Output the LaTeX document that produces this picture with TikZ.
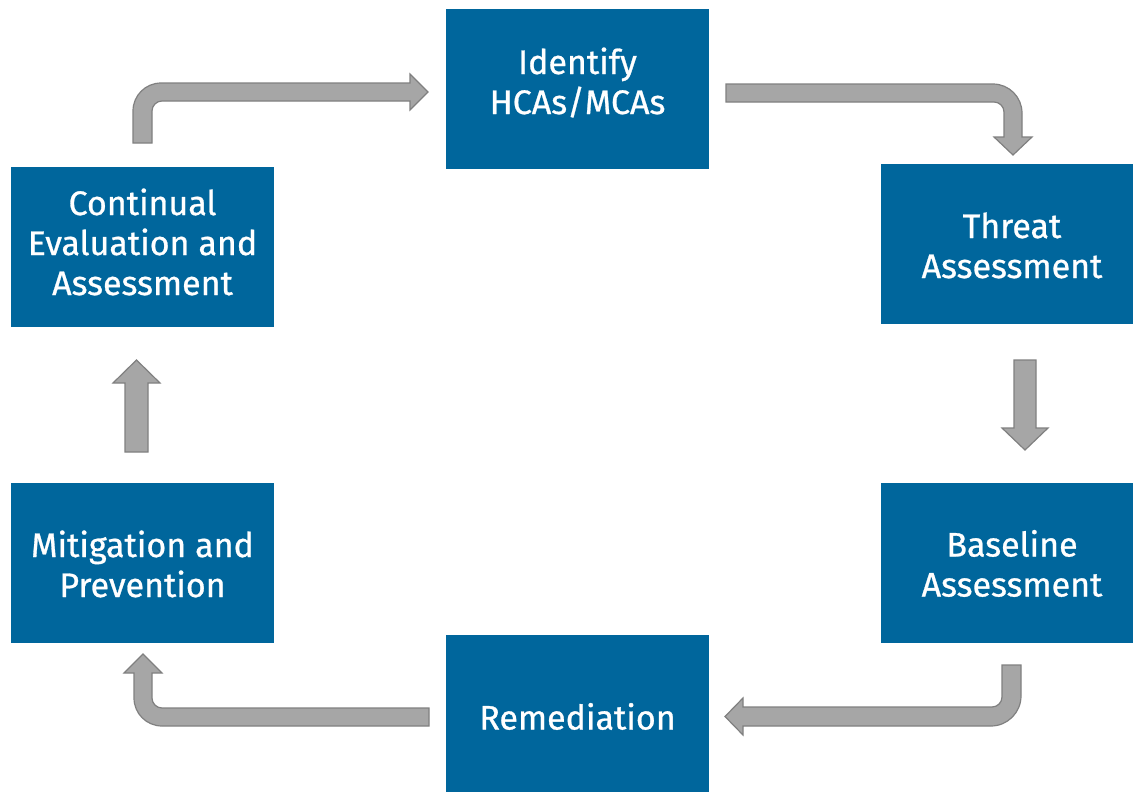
\documentclass[tikz,border=0pt]{standalone}
\usepackage{fontspec}
\setmainfont{Fira Sans}[FakeBold=0.8]
\definecolor{boxblue}{RGB}{0,102,156}
\definecolor{arrfill}{RGB}{166,166,166}
\definecolor{arrline}{RGB}{128,128,128}
\newcommand{\boxtext}[2]{\raisebox{#1}[\height][\depth]{\begin{tabular}{@{}c@{}}#2\end{tabular}}}
\begin{document}
\begin{tikzpicture}[x=1pt,y=-1pt,
  box/.style={fill=boxblue, text=white, inner sep=0pt,
    font=\fontsize{34}{40}\selectfont},
  blockarrow/.style={fill=arrfill, draw=arrline, line width=1.2pt, line join=miter}]
\useasboundingbox (0,0) rectangle (1133,793);
\node[box, minimum width=263pt, minimum height=160pt] (id) at (577.5,89) {\boxtext{3pt}{Identify\\HCAs/MCAs}};
\node[box, minimum width=252pt, minimum height=160pt] (threat) at (1007,244) {\boxtext{-6pt}{\hspace*{10pt}Threat\\\hspace*{10pt}Assessment}};
\node[box, minimum width=252pt, minimum height=160pt] (base) at (1007,563) {\boxtext{-5.5pt}{\hspace*{10pt}Baseline\\\hspace*{10pt}Assessment}};
\node[box, minimum width=263pt, minimum height=157pt] (rem) at (577.5,713.5) {\boxtext{-8pt}{Remediation}};
\node[box, minimum width=263pt, minimum height=160pt] (mit) at (142.5,563) {\boxtext{-6pt}{Mitigation and\\Prevention}};
\node[box, minimum width=263pt, minimum height=160pt] (cont) at (142.5,247) {\boxtext{0pt}{Continual\\Evaluation and\\Assessment}};
% cont -> id
\draw[blockarrow] (133,143) -- (133,111) .. controls (133,95.5) and (145.5,83) .. (161,83) -- (410,83) -- (410,74) -- (428,92) -- (410,110) -- (410,101) -- (162,101) .. controls (156.5,101) and (152,105.5) .. (152,111) -- (152,143) -- cycle;
% id -> threat
\draw[blockarrow] (726,84) -- (993,84) .. controls (1009,84) and (1022,97) .. (1022,113) -- (1022,137) -- (1032,137) -- (1013,155) -- (994,137) -- (1004,137) -- (1004,112) .. controls (1004,106.5) and (999.5,102) .. (994,102) -- (726,102) -- cycle;
% threat -> base
\draw[blockarrow] (1014,360) -- (1036,360) -- (1036,428) -- (1048,428) -- (1025,450) -- (1002,428) -- (1014,428) -- cycle;
% base -> rem
\draw[blockarrow] (1002,665) -- (1021,665) -- (1021,696) .. controls (1021,712.5) and (1007.5,726) .. (991,726) -- (743,726) -- (743,735) -- (725,716.5) -- (743,698) -- (743,707) -- (992,707) .. controls (997.5,707) and (1002,702.5) .. (1002,697) -- cycle;
% rem -> mit
\draw[blockarrow] (429,708) -- (429,726) -- (162,726) .. controls (146.5,726) and (134,713.5) .. (134,698) -- (134,673) -- (124,673) -- (143,654) -- (162,673) -- (152,673) -- (152,698) .. controls (152,703.5) and (156.5,708) .. (162,708) -- cycle;
% mit -> cont
\draw[blockarrow] (125,452) -- (148,452) -- (148,383) -- (160,383) -- (136.5,360) -- (113,383) -- (125,383) -- cycle;
\end{tikzpicture}
\end{document}
